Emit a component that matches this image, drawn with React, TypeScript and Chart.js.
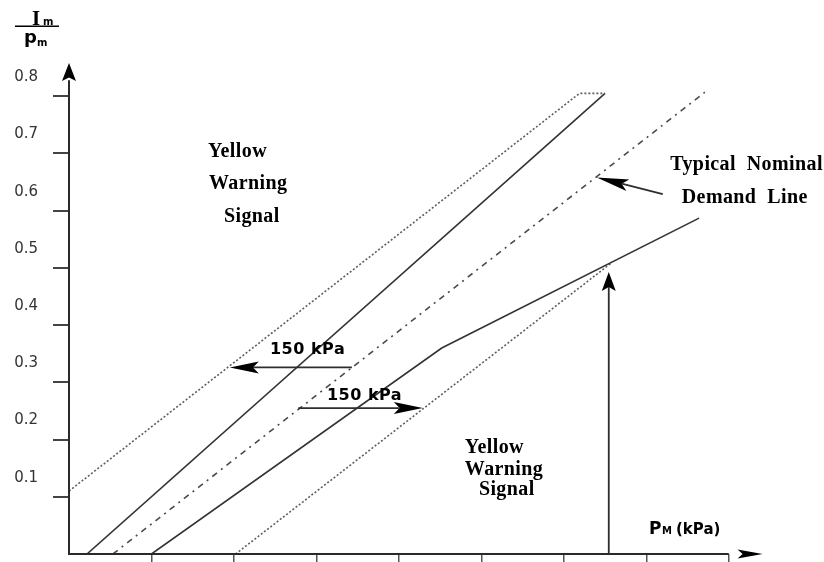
import { useEffect, useRef } from 'react';
import { Chart, registerables } from 'chart.js';

Chart.register(...registerables);

// ---- axis ticks ----
const xTicks = [1, 2, 3, 4, 5, 6, 7, 8];
const yTicks = [0.1, 0.2, 0.3, 0.4, 0.5, 0.6, 0.7, 0.8];
const yTickLabels = ['0.1', '0.2', '0.3', '0.4', '0.5', '0.6', '0.7', '0.8'];

// ---- line series (x: pressure units, y: ratio) ----
const upperDotted = [
  { x: 0, y: 0.11 },
  { x: 6.19, y: 0.805 },
  { x: 6.5, y: 0.805 },
];
const upperSolid = [
  { x: 0.218, y: 0 },
  { x: 6.5, y: 0.805 },
];
const nominalDemand = [
  { x: 0.533, y: 0 },
  { x: 7.71, y: 0.807 },
];
const lowerSolid = [
  { x: 1.0, y: 0 },
  { x: 4.52, y: 0.36 },
  { x: 7.64, y: 0.587 },
];
const lowerDotted = [
  { x: 2.02, y: 0 },
  { x: 6.58, y: 0.509 },
];

// ---- annotation arrows (data coords) ----
const arrowFrom = [
  [3.43, 0.326],
  [2.78, 0.255],
  [7.2, 0.629],
  [6.545, 0],
];
const arrowTo = [
  [1.95, 0.326],
  [4.29, 0.255],
  [6.4, 0.658],
  [6.545, 0.493],
];

// ---- annotation texts ----
const serifTexts = [
  { t: 'Yellow', x: 1.685, y: 0.694 },
  { t: 'Warning', x: 1.697, y: 0.638 },
  { t: 'Signal', x: 1.879, y: 0.58 },
  { t: 'Yellow', x: 4.8, y: 0.1765 },
  { t: 'Warning', x: 4.8, y: 0.138 },
  { t: 'Signal', x: 4.97, y: 0.103 },
  { t: 'Typical  Nominal', x: 7.29, y: 0.671 },
  { t: 'Demand  Line', x: 7.43, y: 0.613 },
];
const kpaTexts = [
  { t: '150 kPa', x: 2.437, y: 0.3495 },
  { t: '150 kPa', x: 3.128, y: 0.269 },
];

function arrowHead(
  ctx: CanvasRenderingContext2D,
  fx: number, fy: number, tx: number, ty: number,
  len: number, half: number
) {
  const a = Math.atan2(ty - fy, tx - fx);
  const dx = Math.cos(a), dy = Math.sin(a);
  const bx = tx - dx * len, by = ty - dy * len;
  const nx = tx - dx * len * 0.8, ny = ty - dy * len * 0.8;
  ctx.beginPath();
  ctx.moveTo(tx, ty);
  ctx.lineTo(bx - dy * half, by + dx * half);
  ctx.lineTo(nx, ny);
  ctx.lineTo(bx + dy * half, by - dx * half);
  ctx.closePath();
  ctx.fill();
  return [nx, ny];
}

const overlayPlugin = {
  id: 'overlay',
  afterDraw(chart: any) {
    const ctx: any = chart.ctx;
    const xs = chart.scales.x;
    const ys = chart.scales.y;
    const X = (v: number) => xs.getPixelForValue(v);
    const Y = (v: number) => ys.getPixelForValue(v);
    ctx.save();
    // axes
    ctx.strokeStyle = '#2a2a2a';
    ctx.fillStyle = '#000';
    ctx.lineWidth = 2;
    ctx.beginPath();
    ctx.moveTo(X(0), Y(0));
    ctx.lineTo(X(0), Y(0.828));
    ctx.moveTo(X(0) - 1, Y(0));
    ctx.lineTo(X(8), Y(0));
    ctx.stroke();
    arrowHead(ctx, X(0), Y(0.828), X(0), Y(0.858), 18, 7);
    arrowHead(ctx, X(8.11), Y(0), X(8.41), Y(0), 25, 4.5);

    // arrows
    ctx.strokeStyle = '#2e2e2e';
    ctx.lineWidth = 1.8;
    for (let i = 0; i < arrowFrom.length; i++) {
      const fx = X(arrowFrom[i][0]), fy = Y(arrowFrom[i][1]);
      const tx = X(arrowTo[i][0]), ty = Y(arrowTo[i][1]);
      const len = i === 3 ? 19 : i === 2 ? 32 : 29;
      const half = i === 3 ? 7 : 6;
      const [nx, ny] = arrowHead(ctx, fx, fy, tx, ty, len, half);
      ctx.beginPath();
      ctx.moveTo(fx, fy);
      ctx.lineTo(nx, ny);
      ctx.stroke();
    }

    // texts
    ctx.fillStyle = '#000';
    ctx.textAlign = 'left';
    ctx.textBaseline = 'alphabetic';
    ctx.letterSpacing = '0.4px';
    ctx.font = "bold 20px 'Liberation Serif'";
    for (const s of serifTexts) ctx.fillText(s.t, X(s.x), Y(s.y));
    ctx.letterSpacing = '0.5px';
    ctx.font = "bold 16px 'DejaVu Sans'";
    for (const s of kpaTexts) ctx.fillText(s.t, X(s.x), Y(s.y));
    ctx.letterSpacing = '0px';

    // y axis title  Im / pm
    ctx.font = "bold 21px 'Liberation Serif'";
    ctx.fillText('I', 32, 25);
    ctx.font = "bold 10px 'DejaVu Sans'";
    ctx.fillText('m', 43, 25);
    ctx.fillRect(15, 25.5, 44, 1.5);
    ctx.font = "bold 18px 'DejaVu Sans'";
    ctx.fillText('p', 24, 43);
    ctx.font = "bold 10px 'DejaVu Sans'";
    ctx.fillText('m', 37, 46);

    // x axis title  PM (kPa)
    ctx.font = "bold 17px 'DejaVu Sans'";
    ctx.fillText('P', 649, 534);
    ctx.font = "bold 10px 'DejaVu Sans'";
    ctx.fillText('M', 662, 534);
    ctx.font = "bold 15px 'DejaVu Sans'";
    ctx.fillText('(kPa)', 676, 534);
    ctx.restore();
  },
};

export default function App() {
  const ref = useRef<HTMLCanvasElement>(null);
  useEffect(() => {
    if (!ref.current) return;
    const line = (data: any[], color: string, dash: number[], w = 1.6) => ({
      data,
      borderColor: color,
      borderWidth: w,
      borderDash: dash,
      pointRadius: 0,
      tension: 0,
      fill: false,
    });
    const chart = new Chart(ref.current, {
      type: 'line',
      data: {
        datasets: [
          line(upperDotted, '#5e5e5e', [2, 2]),
          line(upperSolid, '#333', []),
          line(nominalDemand, '#4a4a4a', [6, 5, 2, 5]),
          line(lowerSolid, '#333', []),
          line(lowerDotted, '#5e5e5e', [2, 2]),
        ] as any,
      },
      options: {
        responsive: false,
        animation: false,
        events: [],
        layout: { padding: { top: 39, right: 54, left: 0, bottom: 0 } },
        plugins: { legend: { display: false }, tooltip: { enabled: false } },
        scales: {
          x: {
            type: 'linear',
            min: 0,
            max: 8.5,
            border: { display: false },
            grid: {
              display: true,
              drawOnChartArea: false,
              drawTicks: true,
              tickLength: 9,
              color: '#555',
              lineWidth: 1.5,
            },
            ticks: { display: false },
            afterBuildTicks: (s: any) => {
              s.ticks = xTicks.map((v) => ({ value: v }));
            },
            afterFit: (s: any) => {
              s.height = 8;
              s.paddingLeft = 0;
              s.paddingRight = 0;
              s.paddingTop = 0;
              s.paddingBottom = 0;
            },
          },
          y: {
            type: 'linear',
            min: 0,
            max: 0.9,
            border: { display: false },
            grid: {
              display: true,
              drawOnChartArea: false,
              drawTicks: true,
              tickLength: 16,
              color: '#444',
              lineWidth: 2,
            },
            ticks: {
              padding: 15,
              labelOffset: -19,
              color: '#333',
              font: { family: 'DejaVu Sans', size: 15 },
              callback: (_v: any, i: number) => yTickLabels[i],
            },
            afterBuildTicks: (s: any) => {
              s.ticks = yTicks.map((v) => ({ value: v }));
            },
            afterFit: (s: any) => {
              s.width = 69;
              s.paddingLeft = 0;
              s.paddingRight = 0;
              s.paddingTop = 0;
              s.paddingBottom = 0;
            },
          },
        },
      },
      plugins: [overlayPlugin],
    });
    return () => chart.destroy();
  }, []);
  return (
    <div style={{ position: 'absolute', left: 0, top: 0, width: 824, height: 562, background: '#fff' }}>
      <canvas ref={ref} width={824} height={562} style={{ display: 'block' }} />
    </div>
  );
}
